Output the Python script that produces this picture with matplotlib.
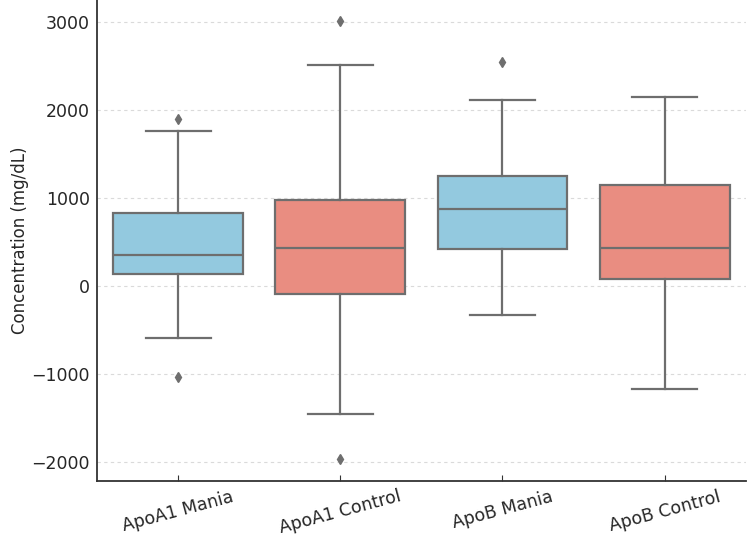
import matplotlib
matplotlib.use("Agg")
import matplotlib.pyplot as plt

# groups and box stats (mg/dL)
groups = ["ApoA1 Mania", "ApoA1 Control", "ApoB Mania", "ApoB Control"]
q1 = [133, -86, 424, 84]
medians = [356, 435, 870, 435]
q3 = [832, 980, 1247, 1150]
whis_lo = [-593, -1451, -329, -1175]
whis_hi = [1757, 2510, 2105, 2147]
fliers = [[1898, -1032], [3005, -1965], [2540], []]
box_colors = ["#93C9DF", "#E98D81", "#93C9DF", "#E98D81"]

stats = []
for i, name in enumerate(groups):
    stats.append({
        "label": name,
        "q1": q1[i],
        "med": medians[i],
        "q3": q3[i],
        "whislo": whis_lo[i],
        "whishi": whis_hi[i],
        "fliers": fliers[i],
    })

line_col = "#6E6E6E"
fig = plt.figure(figsize=(7.5, 5.39), dpi=100)
ax = fig.add_axes([0.1293, 0.1082, 0.865, 0.8918])

bp = ax.bxp(stats, positions=range(len(groups)), widths=0.8, patch_artist=True,
            boxprops=dict(edgecolor=line_col, linewidth=1.6),
            medianprops=dict(color=line_col, linewidth=1.6),
            whiskerprops=dict(color=line_col, linewidth=1.6),
            capprops=dict(color=line_col, linewidth=1.6),
            capwidths=0.4,
            flierprops=dict(marker="d", markerfacecolor=line_col, markeredgecolor=line_col,
                            markersize=5.5))
for patch, c in zip(bp["boxes"], box_colors):
    patch.set_facecolor(c)

ax.set_xlim(-0.5, 3.5)
ax.set_ylim(-2210, 3245)
ax.set_yticks([-2000, -1000, 0, 1000, 2000, 3000])
ax.set_xticks(range(len(groups)))
ax.set_xticklabels(groups, rotation=15, fontsize=12.5, color="#262626")
ax.tick_params(axis="y", labelsize=12.5, length=0, pad=5, labelcolor="#262626")
ax.tick_params(axis="x", direction="in", length=4, color="#333333", pad=5)
ax.set_ylabel("Concentration (mg/dL)", fontsize=12, color="#262626", labelpad=2)

ax.yaxis.grid(True, linestyle=(0, (3, 3)), color="#dadada", linewidth=0.8)
ax.set_axisbelow(True)
for s in ["top", "right"]:
    ax.spines[s].set_visible(False)
for s in ["left", "bottom"]:
    ax.spines[s].set_color("#333333")
    ax.spines[s].set_linewidth(1.3)

fig.savefig("out.png", dpi=100)
